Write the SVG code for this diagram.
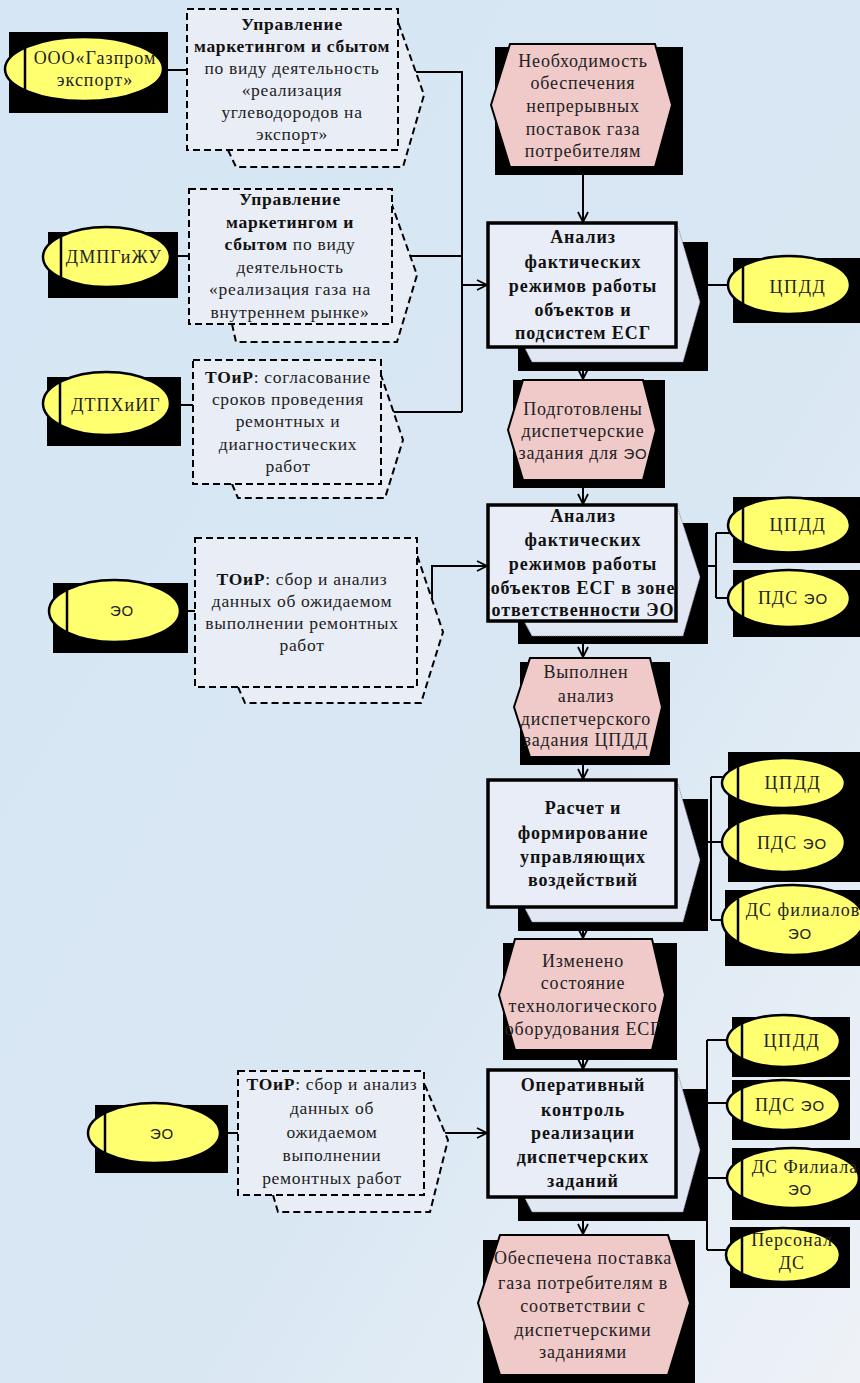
<svg xmlns="http://www.w3.org/2000/svg" width="860" height="1383" viewBox="0 0 860 1383">
<defs>
<linearGradient id="bg" x1="0" y1="0" x2="1" y2="1">
<stop offset="0" stop-color="#d6e6f4"/>
<stop offset="0.6" stop-color="#d9e7f3"/>
<stop offset="1" stop-color="#eef2f7"/>
</linearGradient>
<marker id="arr" viewBox="0 0 12 12" refX="11" refY="6" markerWidth="12" markerHeight="12" markerUnits="userSpaceOnUse" orient="auto">
<path d="M1,1 L11,6 L1,11" fill="none" stroke="#000" stroke-width="1.8"/>
</marker>
<style>
.sh{fill:#000}
.ell{fill:#ffff70;stroke:#000;stroke-width:2.5}
.vl{stroke:#000;stroke-width:2.5}
.ev{fill:#f0c9c9;stroke:#000;stroke-width:2}
.fn{fill:#e8edf7;stroke:#000;stroke-width:3.5}
.fb{fill:#e2e8f3;stroke:#7a8596;stroke-width:1;stroke-dasharray:1 1}
.db{fill:#e9edf6;stroke:#000;stroke-width:2;stroke-dasharray:7 4}
.ln{fill:none;stroke:#000;stroke-width:2}
.ar{fill:none;stroke:#000;stroke-width:2;marker-end:url(#arr)}
text{font-family:"Liberation Serif","DejaVu Serif",serif;font-size:17.5px;fill:#222;text-anchor:middle;letter-spacing:0.7px}
.e{font-size:18px;letter-spacing:0.8px}
.f{font-size:18px;font-weight:bold;fill:#111;letter-spacing:0.9px}
.b{font-weight:bold;fill:#111}
.s{font-family:"Liberation Sans","DejaVu Sans",sans-serif;font-size:15px}
.o{font-size:18px;letter-spacing:1.6px}
.p{font-size:18px;letter-spacing:1px}
</style>
</defs>
<rect x="0" y="0" width="860" height="1383" fill="url(#bg)"/>

<g id="connectors">
<path class="ln" d="M163,70 H187"/>
<path class="ln" d="M398,72 H462 V412"/>
<path class="ln" d="M170,256 H189"/>
<path class="ln" d="M392,256 H462"/>
<path class="ln" d="M170,405 H193"/>
<path class="ln" d="M381,412 H462"/>
<path class="ar" d="M462,285 H487"/>
<path class="ar" d="M583,167 V222"/>
<path class="ln" d="M676,285 H728"/>
<path class="ar" d="M583,347 V379"/>
<path class="ar" d="M583,480 V504"/>
<path class="ln" d="M180,611 H195"/>
<path class="ar" d="M417,612 H432 V566 H487"/>
<path class="ln" d="M676,566 H716 M716,533 V598 M716,533 H730 M716,598 H730"/>
<path class="ar" d="M583,621 V657"/>
<path class="ar" d="M583,757 V779"/>
<path class="ln" d="M676,842 H711 M711,777 V920 M711,777 H724 M711,842 H724 M711,920 H724"/>
<path class="ar" d="M583,907 V938"/>
<path class="ar" d="M583,1050 V1069"/>
<path class="ln" d="M220,1133 H238"/>
<path class="ar" d="M424,1133 H487"/>
<path class="ln" d="M676,1132 H707 M707,1040 V1250 M707,1040 H728 M707,1103 H728 M707,1178 H728 M707,1250 H727"/>
<path class="ar" d="M583,1197 V1234"/>
</g>

<!-- Left organisations -->
<g id="org-gazpromexport">
<rect class="sh" x="9" y="32" width="159" height="81"/>
<ellipse class="ell" cx="84" cy="69" rx="79" ry="32"/>
<line class="vl" x1="25" y1="47" x2="25" y2="92"/>
<text class="p" x="95" y="64">ООО«Газпром</text>
<text class="p" x="95" y="86">экспорт»</text>
</g>
<g id="org-dmpgizhu">
<rect class="sh" x="48" y="232" width="130" height="66"/>
<ellipse class="ell" cx="106.5" cy="257" rx="63.5" ry="30"/>
<line class="vl" x1="61" y1="236" x2="61" y2="278"/>
<text class="p" x="114" y="263">ДМПГиЖУ</text>
</g>
<g id="org-dtphiig">
<rect class="sh" x="47" y="377" width="134" height="69"/>
<ellipse class="ell" cx="106.5" cy="403.5" rx="63.5" ry="31.5"/>
<line class="vl" x1="60" y1="382" x2="60" y2="425"/>
<text class="p" x="116" y="411">ДТПХиИГ</text>
</g>
<g id="org-eo-1">
<rect class="sh" x="53" y="583" width="135" height="70"/>
<ellipse class="ell" cx="114.5" cy="611" rx="65.5" ry="31"/>
<line class="vl" x1="67" y1="589" x2="67" y2="633"/>
<text class="s" x="122" y="616">ЭО</text>
</g>
<g id="org-eo-2">
<rect class="sh" x="95" y="1105" width="133" height="68"/>
<ellipse class="ell" cx="154" cy="1133" rx="66" ry="30"/>
<line class="vl" x1="105" y1="1112" x2="105" y2="1154"/>
<text class="s" x="162" y="1139">ЭО</text>
</g>

<!-- Dashed activity boxes -->
<g id="act-export">
<polygon class="db" points="228,150 236,167 403,167 424,95 398,22 300,22"/>
<rect class="db" x="187" y="9" width="211" height="141"/>
<text class="b" x="292" y="30">Управление</text>
<text class="b" x="292" y="52">маркетингом и сбытом</text>
<text x="292" y="74">по виду деятельность</text>
<text x="292" y="96">«реализация</text>
<text x="292" y="118">углеводородов на</text>
<text x="292" y="140">экспорт»</text>
</g>
<g id="act-domestic">
<polygon class="db" points="232,324 236,342 397,342 417,275 392,205 300,205"/>
<rect class="db" x="189" y="189" width="203" height="135"/>
<text class="b" x="290" y="205">Управление</text>
<text class="b" x="290" y="228">маркетингом и</text>
<text x="290" y="250"><tspan class="b">сбытом</tspan> по виду</text>
<text x="290" y="273">деятельность</text>
<text x="290" y="295">«реализация газа на</text>
<text x="290" y="318">внутреннем рынке»</text>
</g>
<g id="act-toir-1">
<polygon class="db" points="232,484 238,498 385,498 403,440 381,375 300,375"/>
<rect class="db" x="193" y="360" width="188" height="124"/>
<text x="288" y="383"><tspan class="b">ТОиР</tspan>: согласование</text>
<text x="288" y="405">сроков проведения</text>
<text x="288" y="427">ремонтных и</text>
<text x="288" y="450">диагностических</text>
<text x="288" y="472">работ</text>
</g>
<g id="act-toir-2">
<polygon class="db" points="238,687 245,703 421,703 443,632 417,555 300,555"/>
<rect class="db" x="195" y="538" width="222" height="149"/>
<text x="302" y="585"><tspan class="b">ТОиР</tspan>: сбор и анализ</text>
<text x="302" y="607">данных об ожидаемом</text>
<text x="302" y="629">выполнении ремонтных</text>
<text x="302" y="651">работ</text>
</g>
<g id="act-toir-3">
<polygon class="db" points="273,1195 278,1212 430,1212 448,1140 424,1083 330,1083"/>
<rect class="db" x="238" y="1071" width="186" height="124"/>
<text x="332" y="1090"><tspan class="b">ТОиР</tspan>: сбор и анализ</text>
<text x="332" y="1114">данных об</text>
<text x="332" y="1138">ожидаемом</text>
<text x="332" y="1161">выполнении</text>
<text x="332" y="1184">ремонтных работ</text>
</g>

<!-- Events -->
<g id="ev-need">
<rect class="sh" x="495" y="47" width="188" height="128"/>
<polygon class="ev" points="510,44 655,44 672,105 655,167 510,167 491,105"/>
<text class="e" x="583" y="67">Необходимость</text>
<text class="e" x="583" y="89">обеспечения</text>
<text class="e" x="583" y="112">непрерывных</text>
<text class="e" x="583" y="135">поставок газа</text>
<text class="e" x="583" y="157">потребителям</text>
</g>
<g id="ev-prepared">
<rect class="sh" x="513" y="380" width="152" height="108"/>
<polygon class="ev" points="523,380 643,380 656,430 643,480 523,480 508,430"/>
<text class="e" x="583" y="415">Подготовлены</text>
<text class="e" x="583" y="437">диспетчерские</text>
<text class="e" x="583" y="459">задания для <tspan class="s">ЭО</tspan></text>
</g>
<g id="ev-analysed">
<rect class="sh" x="520" y="662" width="150" height="103"/>
<polygon class="ev" points="530,658 650,658 662,707 650,757 530,757 514,707"/>
<text class="e" x="586" y="678">Выполнен</text>
<text class="e" x="586" y="702">анализ</text>
<text class="e" x="586" y="725">диспетчерского</text>
<text class="e" x="586" y="746">задания ЦПДД</text>
</g>
<g id="ev-changed">
<rect class="sh" x="503" y="943" width="174" height="117"/>
<polygon class="ev" points="515,939 652,939 665,995 652,1050 515,1050 499,995"/>
<text class="e" x="583" y="967">Изменено</text>
<text class="e" x="583" y="989">состояние</text>
<text class="e" x="583" y="1012">технологического</text>
<text class="e" x="583" y="1035">оборудования ЕСГ</text>
</g>
<g id="ev-supplied">
<rect class="sh" x="483" y="1240" width="212" height="143"/>
<polygon class="ev" points="500,1235 668,1235 690,1303 668,1375 500,1375 478,1303"/>
<text class="e" x="583" y="1264">Обеспечена поставка</text>
<text class="e" x="583" y="1289">газа потребителям в</text>
<text class="e" x="583" y="1312">соответствии с</text>
<text class="e" x="583" y="1336">диспетчерскими</text>
<text class="e" x="583" y="1358">заданиями</text>
</g>

<!-- Functions -->
<g id="fn-1">
<rect class="sh" x="518" y="242" width="190" height="129"/>
<polygon class="fb" points="500,227 678,227 700,302 683,362 532,362 500,300"/>
<rect class="fn" x="488" y="223" width="188" height="124"/>
<text class="f" x="583" y="243">Анализ</text>
<text class="f" x="583" y="268">фактических</text>
<text class="f" x="583" y="292">режимов работы</text>
<text class="f" x="583" y="316">объектов и</text>
<text class="f" x="583" y="339">подсистем ЕСГ</text>
</g>
<g id="fn-2">
<rect class="sh" x="518" y="523" width="190" height="121"/>
<polygon class="fb" points="500,509 678,509 700,577 683,636 532,636 500,577"/>
<rect class="fn" x="488" y="505" width="188" height="116"/>
<text class="f" x="583" y="522">Анализ</text>
<text class="f" x="583" y="546">фактических</text>
<text class="f" x="583" y="570">режимов работы</text>
<text class="f" x="583" y="594">объектов ЕСГ в зоне</text>
<text class="f" x="583" y="616">ответственности ЭО</text>
</g>
<g id="fn-3">
<rect class="sh" x="518" y="799" width="190" height="132"/>
<polygon class="fb" points="500,784 678,784 700,860 683,922 532,922 500,860"/>
<rect class="fn" x="488" y="780" width="188" height="127"/>
<text class="f" x="583" y="814">Расчет и</text>
<text class="f" x="583" y="839">формирование</text>
<text class="f" x="583" y="863">управляющих</text>
<text class="f" x="583" y="886">воздействий</text>
</g>
<g id="fn-4">
<rect class="sh" x="518" y="1089" width="190" height="132"/>
<polygon class="fb" points="500,1074 678,1074 700,1150 683,1212 532,1212 500,1150"/>
<rect class="fn" x="488" y="1070" width="188" height="127"/>
<text class="f" x="583" y="1091">Оперативный</text>
<text class="f" x="583" y="1116">контроль</text>
<text class="f" x="583" y="1139">реализации</text>
<text class="f" x="583" y="1163">диспетчерских</text>
<text class="f" x="583" y="1187">заданий</text>
</g>

<!-- Right organisations -->
<g id="org-cpdd-1">
<rect class="sh" x="733" y="258" width="127" height="65"/>
<ellipse class="ell" cx="789" cy="285" rx="61" ry="29"/>
<line class="vl" x1="743" y1="266" x2="743" y2="304"/>
<text class="o" x="798" y="293">ЦПДД</text>
</g>
<g id="org-cpdd-2">
<rect class="sh" x="733" y="497" width="127" height="66"/>
<ellipse class="ell" cx="789" cy="525" rx="61" ry="27.5"/>
<line class="vl" x1="743" y1="507" x2="743" y2="543"/>
<text class="o" x="798" y="531">ЦПДД</text>
</g>
<g id="org-pds-1">
<rect class="sh" x="733" y="570" width="127" height="67"/>
<ellipse class="ell" cx="789" cy="598.5" rx="61" ry="28.5"/>
<line class="vl" x1="743" y1="580" x2="743" y2="617"/>
<text class="p" x="793" y="604">ПДС <tspan class="s">ЭО</tspan></text>
</g>
<g id="org-cpdd-3">
<rect class="sh" x="728" y="752" width="132" height="61"/>
<ellipse class="ell" cx="783.5" cy="783" rx="61.5" ry="25"/>
<line class="vl" x1="738" y1="766" x2="738" y2="800"/>
<text class="o" x="793" y="789">ЦПДД</text>
</g>
<g id="org-pds-2">
<rect class="sh" x="728" y="813" width="132" height="69"/>
<ellipse class="ell" cx="783.5" cy="842.5" rx="61.5" ry="29.5"/>
<line class="vl" x1="738" y1="822" x2="738" y2="863"/>
<text class="p" x="792" y="849">ПДС <tspan class="s">ЭО</tspan></text>
</g>
<g id="org-ds-fil-1">
<rect class="sh" x="725" y="890" width="135" height="76"/>
<ellipse class="ell" cx="793" cy="920" rx="71" ry="35"/>
<line class="vl" x1="738" y1="899" x2="738" y2="942"/>
<text class="p" x="803" y="916">ДС филиалов</text>
<text class="s" x="800" y="939">ЭО</text>
</g>
<g id="org-cpdd-4">
<rect class="sh" x="732" y="1017" width="118" height="60"/>
<ellipse class="ell" cx="783.5" cy="1041" rx="56.5" ry="26"/>
<line class="vl" x1="742" y1="1024" x2="742" y2="1058"/>
<text class="o" x="792" y="1047">ЦПДД</text>
</g>
<g id="org-pds-3">
<rect class="sh" x="732" y="1080" width="118" height="60"/>
<ellipse class="ell" cx="783.5" cy="1105" rx="56.5" ry="25"/>
<line class="vl" x1="742" y1="1089" x2="742" y2="1121"/>
<text class="p" x="790" y="1111">ПДС <tspan class="s">ЭО</tspan></text>
</g>
<g id="org-ds-fil-2">
<rect class="sh" x="732" y="1148" width="128" height="72"/>
<ellipse class="ell" cx="793" cy="1178" rx="66" ry="30"/>
<line class="vl" x1="742" y1="1158" x2="742" y2="1198"/>
<text class="p" x="805" y="1173">ДС Филиала</text>
<text class="s" x="800" y="1195">ЭО</text>
</g>
<g id="org-personal">
<rect class="sh" x="730" y="1227" width="120" height="61"/>
<ellipse class="ell" cx="783" cy="1255" rx="57" ry="27"/>
<line class="vl" x1="742" y1="1237" x2="742" y2="1273"/>
<text class="p" x="792" y="1246">Персонал</text>
<text class="p" x="792" y="1269">ДС</text>
</g>
</svg>
